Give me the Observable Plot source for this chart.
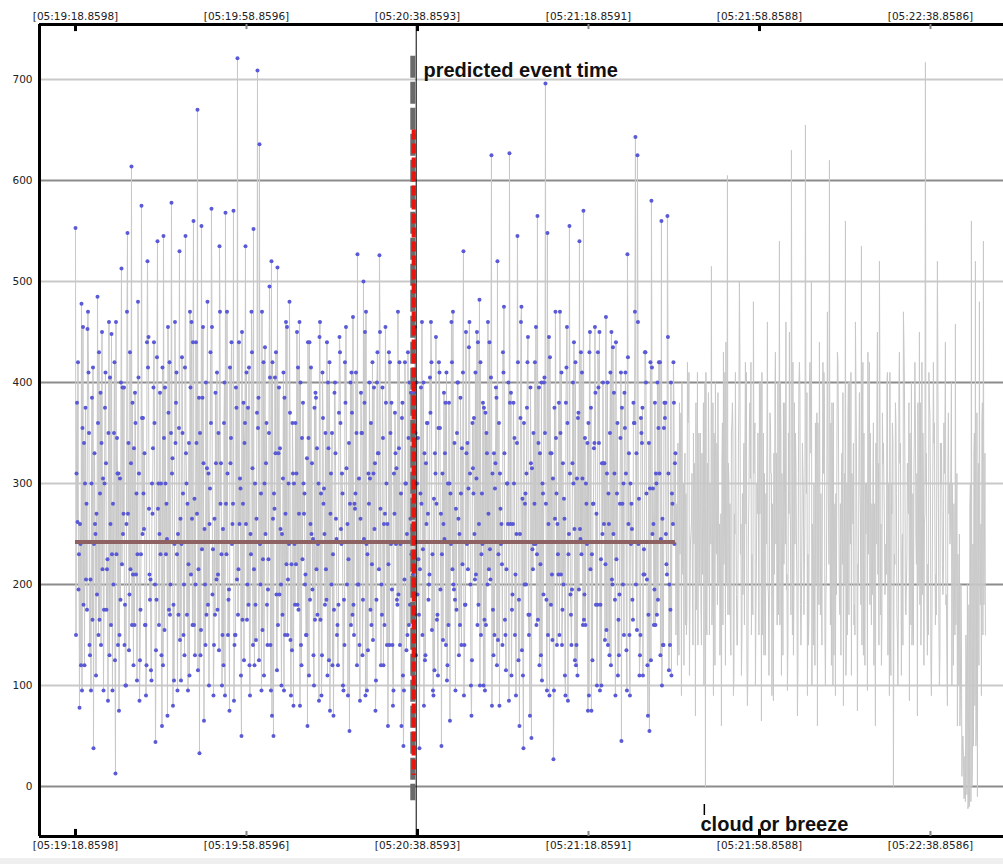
<!DOCTYPE html>
<html><head><meta charset="utf-8">
<script src="https://cdn.jsdelivr.net/npm/d3@7"></script>
<script src="https://cdn.jsdelivr.net/npm/@observablehq/plot@0.6"></script>
<style>
html,body{margin:0;padding:0;background:#efefef;}
#chart svg{display:block;background:#fff;}
</style></head><body><div id="chart"></div><script>
// Axis ticks (seconds after 05:19:18.8598) and their labels
const tickSeconds = [0, 40, 80, 120, 160, 200];
const tickLabels = ["[05:19:18.8598]", "[05:19:58.8596]", "[05:20:38.8593]", "[05:21:18.8591]", "[05:21:58.8588]", "[05:22:38.8586]"];
const majorTickSeconds = [0, 80, 160];
const minorTickSeconds = [40, 120, 200];
const yTicks = [0, 100, 200, 300, 400, 500, 600, 700];
const darkGridValues = [0, 200, 400, 600];
const lightGridValues = [100, 300, 500, 700];

// Readings come in four interleaved phases; each phase has one reading every sampleStep seconds
const sampleStep = 0.4678;
const phaseOffsets = [0, 0.5, 0.25, 0.75];

// Phase 1: labelled readings (blue dots), first part
const labeledValuesA = [
553,262,78,478,180,375,453,140,300,38,
250,485,165,340,95,410,225,130,448,200,
13,310,150,513,270,100,548,190,614,120,
360,230,85,575,290,160,520,210,105,395,
44,540,250,130,545,300,70,420,578,180,
340,95,530,240,150,545,280,110,460,560,
200,670,33,555,320,140,480,260,572,90,
390,175,535,230,120,568,310,75,440,570,
150,721,260,50,380,535,200,120,470,552,
180,709,636,95,420,250,140,495,520,50,
330,514,190,100,410,270,150,480,220,80,
360,180,460,120,300,210,60,440,250,130,
390,170,445,90,280,350,110,420,200,70,
330,160,445,240,95,380,260,55,410,180,
290,527,140,350,500,90,230,400,160,310,
75];
// Phase 1: labelled readings, second part (after the predicted event)
const labeledValuesB = [
430,526,200,120,455,260,140,380,95,
330,180,420,60,40,300,150,400,230,110,
350,190,38,280,400,130,360,210,420,90,
310,170,410,40,260,380,120,300,460,200,
95,400,250,140,530,180,340,460,70,290,
410,160,482,230,100,370,200,440,625,130,
320,520,80,260,410,150,300,627,110,380,
210,545,60,475,38,290,420,170,48,350,
240,565,120,400,190,696,548,90,330,27,
470,260,150,410,200,90,360,555,140,300,
420,110,540,230,570,160,340,430,75,280,
390,180,450,100,320,220,400,130,450,250,
90,360,190,45,300,410,527,150,280,380,
643,625,110,350,210,430,120,55,580,260,
160,400,310,560,140,380,565,200,110,420,
330];
// Phase 1: unlabelled readings (grey line only)
const unlabeledValues = [
120,380,90,300,160,420,110,260,350,70,
410,200,140,380,0,320,150,515,90,400,
180,260,60,430,120,605,170,350,90,410,
140,500,110,300,420,80,360,150,480,100,
270,400,65,350,130,460,200,310,85,430,
160,540,110,380,240,95,450,630,130,350,
70,420,180,290,655,90,400,500,140,360,
60,440,200,310,100,470,620,120,380,90,
430,180,300,80,560,150,400,110,340,460,
75,390,535,130,300,95,420,160,360,60,
450,520,120,340,200,410,90,300,0,380,
150,430,110,470,180,320,85,400,140,360,
70,450,200,300,717,130,380,90,420,160,
520,100,340,210,440,80,300,400,120,458,
60,250,150,30,-15,200,-20,560,40,520,
-10,480,90,540,150];

// Phase 2
const labeledValuesP2 = [
310,195,240,355,120,280,410,205,165,330,
270,150,390,215,300,175,350,260,95,420,
230,310,185,395,140,260,340,215,380,160,
290,405,175,250,330,120,445,205,270,360,
185,300,230,415,155,280,370,200,325,240,
410,170,265,350,130,300,220,395,160,285,
340,215,130,385,255,170,310,430,190,265,
205,350,280,150,400,230,185,320,260,140,
375,215,295,165,340,410,180,250,315,120,
265,385,200,155,300,360,225,140,420,275,
190,330,255,170,385,220,300,145,360,240,
310,175,400,225,290,150,345,260,195,375,
215,300,165,410,250,185,335,270,120,390,
245,180,360,290,140,315,225,400,170,280,
350,200,265,130,380,240,310,175,420,255,
185,330,275,395,160,300,220,350,140,270,
315,190,240,380,205,135,345,265,300,170,
400,225,290,150,330,260,185,370,230,115,
280,355,195,310,245,410,160,290,215,340,
175,265,385,220,140,330,295,200,360,250,
305,180,420,240,165,350,270,205,310,150,
385,230,275,140,330,215,400,260,190,345,
250,125,365,285,200,310,170,395,235,280,
160,340,220,300,405,185,260,330,145,375,
290,210,350,175,265,415,230,190,320,255,
140,370,245,305,190,280,360,215,125,340,
270,395,180,250,320,155,290,410,200,310,
225,165,345,280,390,135,260,300,185,360,
330,240,150,375,210,290,170,420,250,195,
300,355,130,265,380,220,310,175,280,240];
const unlabeledValuesP2 = [
260,180,330,220,290,150,370,240,200,320,
175,280,350,210,300,160,390,250,190,340,
230,300,170,360,260,200,320,145,380,270,
190,340,230,290,160,410,250,305,180,350,
220,275,370,150,310,240,190,360,280,210,
330,170,400,230,290,195,350,260,150,380,
245,310,180,340,220,290,140,390,260,200,
350,240,170,300,380,210,270,160,330,250,
190,360,280,220,310,150,400,240,290,180,
340,200,270,380,160,300,230,350,190,280,
240,320,170,370,260,210,300,145,360,230,
290,180,340,250,400,200,270,320,160,350,
220,290,380,190,260,330,150,300,240,360,
170,280,340,220,310,190,370,250,300,210,
260,180,90,40,-10,120,-18,300,20,350,
60,320,180,380,240];

// Phase 3
const labeledValuesP3 = [
150,420,260,95,340,205,470,130,385,240,
110,360,290,450,175,320,85,405,230,350,
460,140,305,220,395,100,270,430,160,335,
210,480,125,365,255,90,415,185,300,440,
135,275,390,60,345,230,455,170,310,105,
380,250,145,425,200,330,95,470,265,160,
440,115,350,235,65,400,180,295,455,140,
320,210,470,100,360,280,150,415,240,85,
395,170,305,450,125,260,375,90,430,215,
145,355,240,470,110,320,195,405,70,290,
430,160,335,250,95,460,205,370,135,300,
220,415,80,345,270,150,440,185,320,100,
385,240,460,130,295,215,400,75,350,175,
265,120,430,310,185,455,90,280,370,150,
410,200,85,350,245,470,135,305,220,395,
105,330,450,170,260,380,60,420,195,310,
240,470,140,365,95,300,430,180,255,390,
130,345,215,460,80,320,270,405,155,285,
445,110,355,230,390,140,300,65,420,195,
275,400,160,335,90,450,215,310,125,365,
210,440,100,290,375,160,460,235,80,330,
395,145,310,220,475,115,260,380,175,300,
90,420,250,135,360,200,445,70,315,240,
455,165,330,105,400,280,150,425,210,95,
345,230,470,140,285,380,85,310,195,440,
120,365,255,410,165,300,75,450,230,335,
180,430,95,320,260,465,140,350,205,390,
440,110,280,375,150,310,425,90,255,360,
200,460,130,340,235,400,70,295,415,160,
310,185,420,100,355,250,445,140,290,380];
const unlabeledValuesP3 = [
150,340,230,400,120,290,360,180,310,240,
380,140,270,330,100,410,200,300,160,350,
250,390,130,320,220,440,170,280,360,110,
300,200,420,150,340,260,120,380,230,310,
170,350,270,410,130,290,200,370,90,330,
240,400,160,310,220,460,140,280,350,190,
320,120,390,250,170,340,230,420,100,300,
200,360,280,140,410,190,320,250,380,130,
290,420,170,330,230,110,370,260,310,160,
400,220,300,140,350,250,430,180,280,120,
340,210,390,160,300,240,130,410,270,190,
360,100,320,230,440,170,290,350,140,310,
250,380,180,420,120,300,220,370,160,340,
210,400,130,290,360,180,320,240,100,280,
160,230,60,10,-12,150,-22,280,0,330,
40,290,200,360,180];

// Phase 4
const labeledValuesP4 = [
380,230,120,455,300,175,350,95,415,260,
190,430,140,305,375,215,460,160,280,125,
345,75,400,250,180,470,135,320,210,390,
105,310,230,365,160,440,275,115,335,200,
425,160,300,120,395,245,175,350,80,460,
230,355,105,290,415,170,340,210,440,130,
270,385,155,455,200,315,100,360,235,170,
410,135,320,255,90,470,195,345,280,150,
205,440,110,280,360,165,415,230,140,300,
370,125,290,225,435,180,350,95,265,405,
115,395,200,305,150,455,240,90,310,180,
450,270,140,380,200,325,110,415,245,165,
335,85,290,365,180,440,125,310,230,400,
150,370,255,100,420,200,340,160,465,275,
120,305,390,185,450,95,280,360,145,320,
400,215,120,345,270,140,430,240,80,370,
185,335,290,110,420,250,160,390,210,455,
300,170,395,235,125,360,200,460,95,330,
165,420,270,145,330,105,380,240,470,185,
350,130,290,410,180,240,435,100,315,205,
450,260,150,380,95,330,215,405,175,295,
120,360,240,430,165,300,85,390,260,150,
340,185,460,110,280,375,150,320,215,420,
230,395,130,290,350,95,445,180,305,265,
140,380,210,320,110,455,250,170,400,125,
305,195,430,160,345,240,90,375,280,455,
100,340,225,400,145,310,260,120,435,185,
290,130,410,200,355,95,330,240,165,470,
155,285,365,110,430,205,340,125,295,380,
170,420,245,140,365,210,115,400,260,320];
const unlabeledValuesP4 = [
280,130,370,210,330,170,410,250,140,300,
220,350,180,290,400,150,320,240,380,120,
340,200,270,160,410,230,300,130,350,250,
140,380,260,190,330,120,290,420,170,360,
300,150,400,240,180,340,110,310,220,390,
160,290,350,130,380,210,270,170,420,240,
200,400,140,310,260,390,170,330,230,120,
370,180,290,420,150,330,220,360,100,280,
340,250,130,390,200,300,170,410,260,150,
230,330,180,420,120,290,360,210,310,160,
380,140,260,320,190,400,250,110,340,220,
170,390,240,140,310,230,380,160,290,420,
310,200,140,350,270,180,410,120,330,250,
380,160,300,190,350,120,270,330,210,150,
310,100,200,50,30,-8,180,-15,240,80,
370,120,260,150,330];

const meanLevel = 242;
const eventTime = 79.7;        // black event line
const predictedTime = 78.9;    // grey dashed marker
const predictedRange = [723, -14];
const redMarkerTime = 79.1;
const redMarkerRange = [650, 11];
const annotations = [
  {t: 81.4, v: 703, label: "predicted event time"},
  {t: 146.2, v: -43.6, label: "cloud or breeze"}
];
const breezeMarker = [{t: 147.1, v1: -17.8, v2: -28.7}];

const xDomain = [-8.42, 217.08];
const yDomain = [-49.5, 754.5];

// Build tables (interleave the phases in time order)
const phases = [
  {labeled: labeledValuesA.concat(labeledValuesB), unlabeled: unlabeledValues, offset: phaseOffsets[0]},
  {labeled: labeledValuesP3, unlabeled: unlabeledValuesP3, offset: phaseOffsets[2]},
  {labeled: labeledValuesP2, unlabeled: unlabeledValuesP2, offset: phaseOffsets[1]},
  {labeled: labeledValuesP4, unlabeled: unlabeledValuesP4, offset: phaseOffsets[3]}
];
const series = [];
const labeled = [];
const maxLen = Math.max(...phases.map(p => p.labeled.length + p.unlabeled.length));
for (let i = 0; i < maxLen; i++) {
  for (const p of phases) {
    const all = p.labeled.length + p.unlabeled.length;
    if (i >= all) continue;
    const v = i < p.labeled.length ? p.labeled[i] : p.unlabeled[i - p.labeled.length];
    const d = {t: (i + p.offset) * sampleStep, v};
    series.push(d);
    if (i < p.labeled.length) labeled.push(d);
  }
}
const labeledEnd = (phases[0].labeled.length - 1) * sampleStep;
const labelBySecond = new Map(tickSeconds.map((s, i) => [s, tickLabels[i]]));

const chart = Plot.plot({
  width: 1003, height: 858,
  marginTop: 24, marginBottom: 22, marginLeft: 39, marginRight: 0,
  x: {domain: xDomain, axis: null},
  y: {domain: yDomain, axis: null},
  style: {fontFamily: "DejaVu Sans", fontSize: "10.5px", color: "#222", background: "#fff"},
  marks: [
    Plot.ruleY(lightGridValues, {stroke: "#c9c9c9", strokeWidth: 2}),
    Plot.ruleY(darkGridValues, {stroke: "#8c8c8c", strokeWidth: 2}),
    Plot.line(series, {x: "t", y: "v", stroke: "#c8c8c8", strokeWidth: 1}),
    Plot.dot(labeled, {x: "t", y: "v", r: 2, fill: "#5a5ad6"}),
    Plot.ruleY([meanLevel], {x1: 0, x2: labeledEnd, stroke: "#8e6262", strokeWidth: 4}),
    Plot.ruleX([predictedTime], {y1: predictedRange[0], y2: predictedRange[1], stroke: "#6a6a6a", strokeWidth: 5, strokeDasharray: "22,4"}),
    Plot.ruleX([redMarkerTime], {y1: redMarkerRange[0], y2: redMarkerRange[1], stroke: "#e8150e", strokeWidth: 4, strokeDasharray: "10,4"}),
    Plot.ruleX([eventTime], {stroke: "#000", strokeWidth: 1}),
    Plot.ruleX(breezeMarker, {x: "t", y1: "v1", y2: "v2", stroke: "#000", strokeWidth: 1.5}),
    Plot.text(annotations, {x: "t", y: "v", text: "label", textAnchor: "start", lineAnchor: "bottom",
      fontFamily: "Liberation Sans", fontWeight: "bold", fontSize: 20, fill: "#111"}),
    // frame
    Plot.ruleY([yDomain[0], yDomain[1]], {stroke: "#000", strokeWidth: 3}),
    Plot.ruleX([xDomain[0]], {stroke: "#000", strokeWidth: 3}),
    // tick marks
    Plot.ruleX(majorTickSeconds, {y1: yDomain[1], y2: yDomain[1] - 7, stroke: "#000", strokeWidth: 3}),
    Plot.ruleX(majorTickSeconds, {y1: yDomain[0], y2: yDomain[0] + 7, stroke: "#000", strokeWidth: 3}),
    Plot.ruleX(minorTickSeconds, {y1: yDomain[1], y2: yDomain[1] - 5, stroke: "#888", strokeWidth: 2}),
    Plot.ruleX(minorTickSeconds, {y1: yDomain[0], y2: yDomain[0] + 5, stroke: "#888", strokeWidth: 2}),
    // axes
    Plot.axisX(tickSeconds, {anchor: "top", tickSize: 0, tickPadding: 5, tickFormat: d => labelBySecond.get(d), label: null}),
    Plot.axisX(tickSeconds, {anchor: "bottom", tickSize: 0, tickPadding: 5, tickFormat: d => labelBySecond.get(d), label: null}),
    Plot.axisY(yTicks, {anchor: "left", tickSize: 0, tickPadding: 7, label: null})
  ]
});
document.getElementById("chart").appendChild(chart);
</script></body></html>
